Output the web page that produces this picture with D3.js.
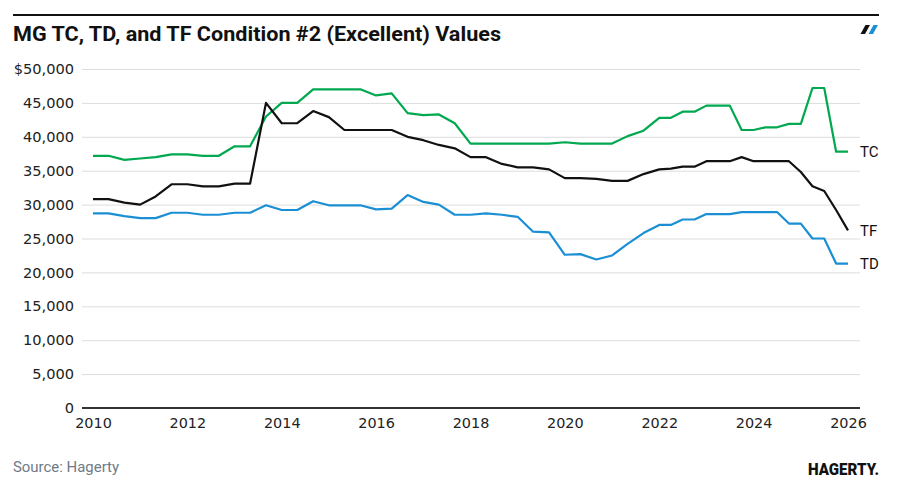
<!DOCTYPE html>
<html>
<head>
<meta charset="utf-8">
<script src="https://cdn.jsdelivr.net/npm/d3@7"></script>
<style>
  body { margin: 0; background: #fff; }
  svg { display: block; }
</style>
</head>
<body>
<div id="chart"></div>
<script>
// observation dates (4-monthly until 2022, quarterly after)
var dates = [
  "2010-01", "2010-05", "2010-09", "2011-01", "2011-05", "2011-09",
  "2012-01", "2012-05", "2012-09", "2013-01", "2013-05", "2013-09",
  "2014-01", "2014-05", "2014-09", "2015-01", "2015-05", "2015-09",
  "2016-01", "2016-05", "2016-09", "2017-01", "2017-05", "2017-09",
  "2018-01", "2018-05", "2018-09", "2019-01", "2019-05", "2019-09",
  "2020-01", "2020-05", "2020-09", "2021-01", "2021-05", "2021-09",
  "2022-01", "2022-04", "2022-07", "2022-10", "2023-01", "2023-04",
  "2023-07", "2023-10", "2024-01", "2024-04", "2024-07", "2024-10",
  "2025-01", "2025-04", "2025-07", "2025-10", "2026-01"
];

var tcValues = [
  37200, 37200, 36600, 36800, 37000, 37400, 37400, 37200, 37200, 38600, 38600, 43000,
  45000, 45000, 47000, 47000, 47000, 47000, 46100, 46400, 43500, 43200, 43300, 42000,
  39000, 39000, 39000, 39000, 39000, 39000, 39200, 39000, 39000, 39000, 40100, 40900,
  42800, 42800, 43700, 43700, 44600, 44600, 44600, 41000, 41000, 41400, 41400, 41900,
  41900, 47200, 47200, 37800, 37800
];

var tdValues = [
  28700, 28700, 28300, 28000, 28000, 28800, 28800, 28500, 28500, 28800, 28800, 29900,
  29200, 29200, 30500, 29900, 29900, 29900, 29300, 29400, 31400, 30400, 30000, 28500,
  28500, 28700, 28500, 28200, 26000, 25900, 22600, 22700, 21900, 22500, 24200, 25800,
  27000, 27000, 27800, 27800, 28600, 28600, 28600, 28900, 28900, 28900, 28900, 27200,
  27200, 25000, 25000, 21300, 21300
];

var tfValues = [
  30800, 30800, 30300, 30000, 31200, 33000, 33000, 32700, 32700, 33100, 33100, 45000,
  42000, 42000, 43800, 42900, 41000, 41000, 41000, 41000, 40000, 39500, 38800, 38300,
  37000, 37000, 36000, 35500, 35500, 35200, 33900, 33900, 33800, 33500, 33500, 34500,
  35200, 35300, 35600, 35600, 36400, 36400, 36400, 37000, 36400, 36400, 36400, 36400,
  34800, 32700, 32000, 29200, 26200
];

var seriesNames = ["TC", "TD", "TF"];
var seriesColors = ["#00a84f", "#1b8fd4", "#111111"];

var yTicks = [0, 5000, 10000, 15000, 20000, 25000, 30000, 35000, 40000, 45000, 50000];
var xTickYears = ["2010", "2012", "2014", "2016", "2018", "2020", "2022", "2024", "2026"];

var svgWidth = 897;
var svgHeight = 485;

var svg = d3.select("#chart")
  .append("svg")
  .attr("width", svgWidth)
  .attr("height", svgHeight);

var parseMonth = d3.timeParse("%Y-%m");
var parseYear = d3.timeParse("%Y");

var x = d3.scaleTime()
  .domain([parseYear("2010"), parseYear("2026")])
  .range([93, 848]);

var y = d3.scaleLinear()
  .domain([0, 50000])
  .range([408, 69]);

var gridLeft = 82;
var gridRight = 860;

// top rule
svg.append("rect")
  .attr("x", 13).attr("y", 14)
  .attr("width", 866).attr("height", 2)
  .attr("fill", "#111");

// small slash mark top right
var slashes = [[865.5, 870, 865, 860.5, "#111"], [873.5, 878, 873, 868.5, "#1b8fd4"]];
slashes.forEach(function(s) {
  svg.append("polygon")
    .attr("points", `${s[0]},25 ${s[1]},25 ${s[2]},34 ${s[3]},34`)
    .attr("fill", s[4]);
});

// title
svg.append("text")
  .attr("x", 13)
  .attr("y", 41)
  .attr("font-family", "Roboto, sans-serif")
  .attr("font-weight", 700)
  .attr("font-size", "19.5px")
  .attr("textLength", 488)
  .attr("lengthAdjust", "spacingAndGlyphs")
  .attr("fill", "#111")
  .text("MG TC, TD, and TF Condition #2 (Excellent) Values");

// y axis + grid
var leftAxis = d3.axisLeft(y)
  .tickValues(yTicks)
  .tickSize(-(gridRight - gridLeft))
  .tickPadding(8)
  .tickFormat(function(d) { return d === 50000 ? "$50,000" : d3.format(",")(d); });

var yAxis = svg.append("g")
  .attr("transform", `translate(${gridLeft}, 0)`)
  .call(leftAxis);

yAxis.select(".domain").remove();
yAxis.selectAll(".tick line")
  .attr("stroke", "#dddddd")
  .attr("stroke-width", 1);
yAxis.selectAll(".tick text")
  .attr("font-family", "'DejaVu Sans', sans-serif")
  .attr("font-size", "14.6px")
  .attr("fill", "#222");

// baseline
svg.append("line")
  .attr("x1", gridLeft).attr("x2", gridRight)
  .attr("y1", y(0)).attr("y2", y(0))
  .attr("stroke", "#333")
  .attr("stroke-width", 2);

// x axis
var bottomAxis = d3.axisBottom(x)
  .tickValues(xTickYears.map(parseYear))
  .tickSize(0)
  .tickPadding(10)
  .tickFormat(d3.timeFormat("%Y"));

var xAxis = svg.append("g")
  .attr("transform", `translate(0, ${y(0)})`)
  .call(bottomAxis);

xAxis.select(".domain").remove();
xAxis.selectAll(".tick text")
  .attr("font-family", "'DejaVu Sans', sans-serif")
  .attr("font-size", "14.4px")
  .attr("fill", "#222");

// lines
var parsedDates = dates.map(parseMonth);
var allSeries = [tcValues, tdValues, tfValues];

var line = d3.line()
  .x(function(d, i) { return x(parsedDates[i]); })
  .y(function(d) { return y(d); });

allSeries.forEach(function(vals, si) {
  svg.append("path")
    .datum(vals)
    .attr("fill", "none")
    .attr("stroke", seriesColors[si])
    .attr("stroke-width", 2.2)
    .attr("stroke-linejoin", "round")
    .attr("d", line);

  // end label
  svg.append("text")
    .attr("x", gridRight)
    .attr("y", y(vals[vals.length - 1]))
    .attr("dy", "0.36em")
    .attr("font-family", "Roboto, sans-serif")
    .attr("font-size", "15px")
    .attr("fill", "#111")
    .text(seriesNames[si]);
});

// footer
svg.append("text")
  .attr("x", 13)
  .attr("y", 472)
  .attr("font-family", "Roboto, sans-serif")
  .attr("font-size", "15px")
  .attr("textLength", 106)
  .attr("lengthAdjust", "spacingAndGlyphs")
  .attr("fill", "#6f7a86")
  .text("Source: Hagerty");

svg.append("text")
  .attr("x", 808)
  .attr("y", 475)
  .attr("font-family", "Roboto, sans-serif")
  .attr("font-weight", 900)
  .attr("font-size", "17px")
  .attr("textLength", 71)
  .attr("lengthAdjust", "spacingAndGlyphs")
  .attr("fill", "#111")
  .text("HAGERTY.");
</script>
</body>
</html>
